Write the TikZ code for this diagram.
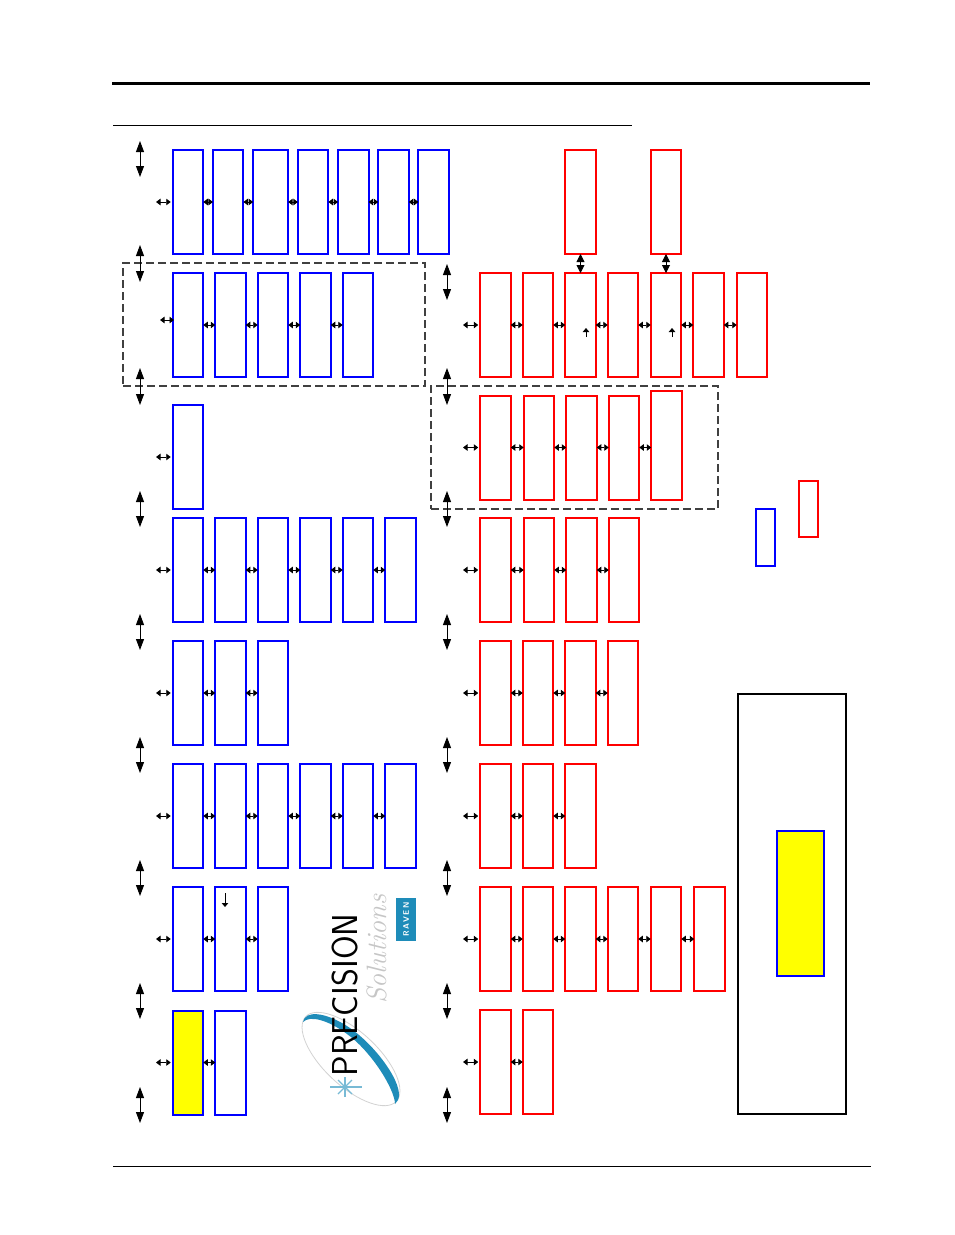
\documentclass[tikz,border=0pt]{standalone}
\usepackage{xcolor}
\usetikzlibrary{arrows.meta,positioning}
\definecolor{logoteal}{RGB}{30,140,185}
\definecolor{fillyel}{RGB}{255,255,0}

\begin{document}
\begin{tikzpicture}[
  x=1pt, y=-1pt,
  blubox/.style={draw=blue, line width=2pt, outer sep=0pt, inner sep=0pt, minimum width=30.5pt, minimum height=104pt},
  redbox/.style={draw=red, line width=2pt, outer sep=0pt, inner sep=0pt, minimum width=30.5pt, minimum height=104pt},
  dashbox/.style={draw=black!75, line width=1.2pt, dash pattern=on 8pt off 4pt, outer sep=0pt, inner sep=0pt},
  harr/.style={{Triangle[length=4.5pt,width=6.5pt]}-{Triangle[length=4.5pt,width=6.5pt]}, line width=0.9pt},
  varr/.style={{Triangle[length=11pt,width=8pt]}-{Triangle[length=11pt,width=8pt]}, line width=0.9pt},
  marr/.style={{Triangle[length=8pt,width=8pt]}-{Triangle[length=8pt,width=8pt]}, line width=0.9pt},
  tinyarr/.style={-{Triangle[length=4pt,width=6.5pt]}, line width=0.8pt},
  node distance=12pt
]
\useasboundingbox (0,0) rectangle (954,1235);

% page rules
\coordinate (topl) at (112,83.5);
\coordinate (topr) at (870,83.5);
\coordinate (subl) at (113,125);
\coordinate (subr) at (632,125);
\coordinate (botl) at (113,1166);
\coordinate (botr) at (871,1166);
\draw[line width=3.4pt] (topl) -- (topr);
\draw[line width=1pt] (subl) -- (subr);
\draw[line width=0.8pt] (botl) -- (botr);

% dashed groups
\node[dashbox, minimum width=302pt, minimum height=123pt] (grpl) at (274,324.5) {};
\node[dashbox, minimum width=287pt, minimum height=123pt] (grpr) at (574.5,447.5) {};

% left column
\node[blubox] (la1) at (188,202) {};
\node[blubox, right=9.7pt of la1] (la2) {};
\node[blubox, right=9.7pt of la2, minimum width=35pt] (la3) {};
\node[blubox, right=9.7pt of la3] (la4) {};
\node[blubox, right=9.7pt of la4] (la5) {};
\node[blubox, right=9.7pt of la5] (la6) {};
\node[blubox, right=9.7pt of la6] (la7) {};

\node[blubox] (lb1) at (188,325) {};
\node[blubox, right=of lb1] (lb2) {};
\node[blubox, right=of lb2] (lb3) {};
\node[blubox, right=of lb3] (lb4) {};
\node[blubox, right=of lb4] (lb5) {};

\node[blubox] (lc1) at (188,457) {};

\node[blubox] (ld1) at (188,570) {};
\node[blubox, right=of ld1] (ld2) {};
\node[blubox, right=of ld2] (ld3) {};
\node[blubox, right=of ld3] (ld4) {};
\node[blubox, right=of ld4] (ld5) {};
\node[blubox, right=of ld5] (ld6) {};

\node[blubox] (le1) at (188,693) {};
\node[blubox, right=of le1] (le2) {};
\node[blubox, right=of le2] (le3) {};

\node[blubox] (lf1) at (188,816) {};
\node[blubox, right=of lf1] (lf2) {};
\node[blubox, right=of lf2] (lf3) {};
\node[blubox, right=of lf3] (lf4) {};
\node[blubox, right=of lf4] (lf5) {};
\node[blubox, right=of lf5] (lf6) {};

\node[blubox] (lg1) at (188,939) {};
\node[blubox, right=of lg1] (lg2) {};
\node[blubox, right=of lg2] (lg3) {};

\node[blubox, fill=fillyel] (lh1) at (188,1062.5) {};
\node[blubox, right=of lh1] (lh2) {};

% right column
\node[redbox] (rb1) at (495.5,325) {};
\node[redbox, right=of rb1] (rb2) {};
\node[redbox, right=of rb2] (rb3) {};
\node[redbox, right=of rb3] (rb4) {};
\node[redbox, right=12.5pt of rb4] (rb5) {};
\node[redbox, right=of rb5] (rb6) {};
\node[redbox, right=13pt of rb6] (rb7) {};
\node[redbox, above=19pt of rb3] (ra1) {};
\node[redbox, above=19pt of rb5] (ra2) {};

\node[redbox] (rc1) at (495.5,447.5) {};
\node[redbox, right=13pt of rc1] (rc2) {};
\node[redbox, right=of rc2] (rc3) {};
\node[redbox, right=of rc3] (rc4) {};
\node[redbox, right=of rc4, minimum height=109pt, yshift=2.5pt] (rc5) {};

\node[redbox] (rd1) at (495.5,570) {};
\node[redbox, right=13pt of rd1] (rd2) {};
\node[redbox, right=of rd2] (rd3) {};
\node[redbox, right=of rd3] (rd4) {};

\node[redbox] (re1) at (495.5,693) {};
\node[redbox, right=of re1] (re2) {};
\node[redbox, right=of re2] (re3) {};
\node[redbox, right=of re3] (re4) {};

\node[redbox] (rf1) at (495.5,816) {};
\node[redbox, right=of rf1] (rf2) {};
\node[redbox, right=of rf2] (rf3) {};

\node[redbox] (rg1) at (495.5,939) {};
\node[redbox, right=of rg1] (rg2) {};
\node[redbox, right=of rg2] (rg3) {};
\node[redbox, right=of rg3] (rg4) {};
\node[redbox, right=12.5pt of rg4] (rg5) {};
\node[redbox, right=13pt of rg5] (rg6) {};

\node[redbox] (rh1) at (495.5,1062) {};
\node[redbox, right=of rh1] (rh2) {};

% legend and note
\node[blubox, minimum width=19pt, minimum height=57pt] (legblu) at (765.5,537.5) {};
\node[redbox, minimum width=19pt, minimum height=56pt] (legred) at (808.5,509) {};
\node[draw, line width=1.3pt, outer sep=0pt, minimum width=108pt, minimum height=420pt] (note) at (792,904) {};
\node[blubox, fill=fillyel, minimum width=47pt, minimum height=145pt] (noteyel) at (800.5,903.5) {};

% links along the rows
\draw[harr] (la1.east) -- (la2.west);
\draw[harr] (la2.east) -- (la3.west);
\draw[harr] (la3.east) -- (la4.west);
\draw[harr] (la4.east) -- (la5.west);
\draw[harr] (la5.east) -- (la6.west);
\draw[harr] (la6.east) -- (la7.west);
\draw[harr] (lb1.east) -- (lb2.west);
\draw[harr] (lb2.east) -- (lb3.west);
\draw[harr] (lb3.east) -- (lb4.west);
\draw[harr] (lb4.east) -- (lb5.west);
\draw[harr] (ld1.east) -- (ld2.west);
\draw[harr] (ld2.east) -- (ld3.west);
\draw[harr] (ld3.east) -- (ld4.west);
\draw[harr] (ld4.east) -- (ld5.west);
\draw[harr] (ld5.east) -- (ld6.west);
\draw[harr] (le1.east) -- (le2.west);
\draw[harr] (le2.east) -- (le3.west);
\draw[harr] (lf1.east) -- (lf2.west);
\draw[harr] (lf2.east) -- (lf3.west);
\draw[harr] (lf3.east) -- (lf4.west);
\draw[harr] (lf4.east) -- (lf5.west);
\draw[harr] (lf5.east) -- (lf6.west);
\draw[harr] (lg1.east) -- (lg2.west);
\draw[harr] (lg2.east) -- (lg3.west);
\draw[harr] (lh1.east) -- (lh2.west);

\draw[harr] (rb1.east) -- (rb2.west);
\draw[harr] (rb2.east) -- (rb3.west);
\draw[harr] (rb3.east) -- (rb4.west);
\draw[harr] (rb4.east) -- (rb5.west);
\draw[harr] (rb5.east) -- (rb6.west);
\draw[harr] (rb6.east) -- (rb7.west);
\draw[harr] (rc1.east) -- (rc2.west);
\draw[harr] (rc2.east) -- (rc3.west);
\draw[harr] (rc3.east) -- (rc4.west);
\draw[harr] (rc4.east) -- (rc5.west|-rc4.east);
\draw[harr] (rd1.east) -- (rd2.west);
\draw[harr] (rd2.east) -- (rd3.west);
\draw[harr] (rd3.east) -- (rd4.west);
\draw[harr] (re1.east) -- (re2.west);
\draw[harr] (re2.east) -- (re3.west);
\draw[harr] (re3.east) -- (re4.west);
\draw[harr] (rf1.east) -- (rf2.west);
\draw[harr] (rf2.east) -- (rf3.west);
\draw[harr] (rg1.east) -- (rg2.west);
\draw[harr] (rg2.east) -- (rg3.west);
\draw[harr] (rg3.east) -- (rg4.west);
\draw[harr] (rg4.east) -- (rg5.west);
\draw[harr] (rg5.east) -- (rg6.west);
\draw[harr] (rh1.east) -- (rh2.west);

\draw[marr] (ra1.south) -- (rb3.north);
\draw[marr] (ra2.south) -- (rb5.north);

% short links into the rows
\coordinate (lain) at (156,202);
\coordinate (lbin) at (160,320);
\coordinate (lbto) at (174,320);
\coordinate (lcin) at (156,457);
\coordinate (ldin) at (156,570);
\coordinate (lein) at (156,693);
\coordinate (lfin) at (156,816);
\coordinate (lgin) at (156,939);
\coordinate (lhin) at (156,1062.5);
\draw[harr, shorten >=2pt] (lain) -- (la1.west);
\draw[harr] (lbin) -- (lbto);
\draw[harr, shorten >=2pt] (lcin) -- (lc1.west);
\draw[harr, shorten >=2pt] (ldin) -- (ld1.west);
\draw[harr, shorten >=2pt] (lein) -- (le1.west);
\draw[harr, shorten >=2pt] (lfin) -- (lf1.west);
\draw[harr, shorten >=2pt] (lgin) -- (lg1.west);
\draw[harr, shorten >=2pt] (lhin) -- (lh1.west);

\coordinate (rbin) at (463,325);
\coordinate (rcin) at (463,447.5);
\coordinate (rdin) at (463,570);
\coordinate (rein) at (463,693);
\coordinate (rfin) at (463,816);
\coordinate (rgin) at (463,939);
\coordinate (rhin) at (463,1062);
\draw[harr, shorten >=2pt] (rbin) -- (rb1.west);
\draw[harr, shorten >=2pt] (rcin) -- (rc1.west);
\draw[harr, shorten >=2pt] (rdin) -- (rd1.west);
\draw[harr, shorten >=2pt] (rein) -- (re1.west);
\draw[harr, shorten >=2pt] (rfin) -- (rf1.west);
\draw[harr, shorten >=2pt] (rgin) -- (rg1.west);
\draw[harr, shorten >=2pt] (rhin) -- (rh1.west);

% small arrows inside boxes
\coordinate (upa1) at (586,337);
\coordinate (upa2) at (586,328);
\coordinate (upb1) at (672,337);
\coordinate (upb2) at (672,328);
\coordinate (dna1) at (225,893);
\coordinate (dna2) at (225,907);
\draw[tinyarr] (upa1) -- (upa2);
\draw[tinyarr] (upb1) -- (upb2);
\draw[tinyarr] (dna1) -- (dna2);

% vertical arrows, left
\coordinate (lv1a) at (140,141);   \coordinate (lv1b) at (140,177);
\coordinate (lv2a) at (140,245);   \coordinate (lv2b) at (140,282);
\coordinate (lv3a) at (140,368);   \coordinate (lv3b) at (140,405);
\coordinate (lv4a) at (140,491);   \coordinate (lv4b) at (140,527);
\coordinate (lv5a) at (140,614);   \coordinate (lv5b) at (140,650);
\coordinate (lv6a) at (140,737);   \coordinate (lv6b) at (140,773);
\coordinate (lv7a) at (140,860);   \coordinate (lv7b) at (140,896);
\coordinate (lv8a) at (140,983);   \coordinate (lv8b) at (140,1019);
\coordinate (lv9a) at (140,1087);  \coordinate (lv9b) at (140,1123);
\draw[varr] (lv1a) -- (lv1b);
\draw[varr] (lv2a) -- (lv2b);
\draw[varr] (lv3a) -- (lv3b);
\draw[varr] (lv4a) -- (lv4b);
\draw[varr] (lv5a) -- (lv5b);
\draw[varr] (lv6a) -- (lv6b);
\draw[varr] (lv7a) -- (lv7b);
\draw[varr] (lv8a) -- (lv8b);
\draw[varr] (lv9a) -- (lv9b);

% vertical arrows, right
\coordinate (rv2a) at (447,264);   \coordinate (rv2b) at (447,300);
\coordinate (rv3a) at (447,368);   \coordinate (rv3b) at (447,405);
\coordinate (rv4a) at (447,491);   \coordinate (rv4b) at (447,527);
\coordinate (rv5a) at (447,614);   \coordinate (rv5b) at (447,650);
\coordinate (rv6a) at (447,737);   \coordinate (rv6b) at (447,773);
\coordinate (rv7a) at (447,860);   \coordinate (rv7b) at (447,896);
\coordinate (rv8a) at (447,983);   \coordinate (rv8b) at (447,1019);
\coordinate (rv9a) at (447,1087);  \coordinate (rv9b) at (447,1123);
\draw[varr] (rv2a) -- (rv2b);
\draw[varr] (rv3a) -- (rv3b);
\draw[varr] (rv4a) -- (rv4b);
\draw[varr] (rv5a) -- (rv5b);
\draw[varr] (rv6a) -- (rv6b);
\draw[varr] (rv7a) -- (rv7b);
\draw[varr] (rv8a) -- (rv8b);
\draw[varr] (rv9a) -- (rv9b);

% logo
\draw[gray!35, line width=0.8pt, rotate around={-43:(351,1059)}] (351,1059) ellipse (62 and 27);
\fill[logoteal] (303,1022) .. controls (305,1010) and (325,1012) .. (347,1026)
  .. controls (375,1044) and (405,1085) .. (398,1100) -- (395,1104)
  .. controls (395,1090) and (372,1052) .. (347,1034)
  .. controls (328,1020) and (310,1015) .. (303,1022) -- cycle;
\node[rotate=90, inner sep=0pt, font=\sffamily\fontsize{36}{36}\selectfont] (logoa) at (345,995) {\scalebox{.95}[1]{PRECISION}};
\node[rotate=90, inner sep=0pt, text=gray!45, font=\itshape\fontsize{28}{28}\selectfont] (logob) at (377,949) {Solutions};
\node[rotate=90, fill=logoteal, text=white, inner sep=0pt, minimum width=43pt, minimum height=20pt, font=\sffamily\bfseries\fontsize{8}{8}\selectfont] (logoc) at (406,919.5) {R\,A\,V\,E\,N};
\draw[logoteal!60, line width=1.1pt] (330,1087) -- (362,1087);
\draw[logoteal!60, line width=1.1pt] (345,1077) -- (345,1097);
\draw[logoteal!60, line width=1.1pt] (338,1080) -- (352,1094);
\draw[logoteal!60, line width=1.1pt] (338,1094) -- (352,1080);
\end{tikzpicture}
\end{document}
